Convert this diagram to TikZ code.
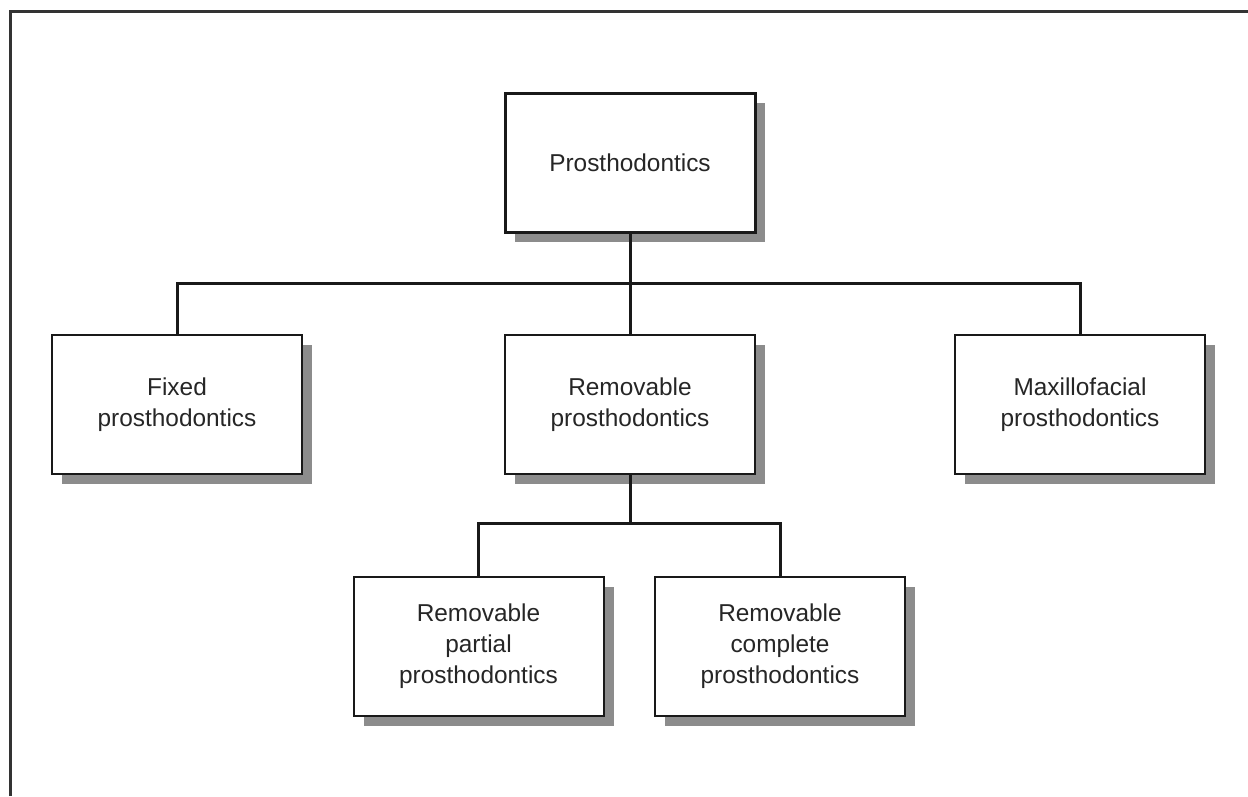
\documentclass[tikz,border=0pt]{standalone}
\usepackage{fontspec}
\setmainfont{Liberation Sans}
\usetikzlibrary{shadows}
\begin{document}
\begin{tikzpicture}[x=1pt,y=-1pt,
  box/.style={draw=black!90, fill=white, line width=2pt, minimum width=250pt, minimum height=139pt,
    align=center, inner sep=0pt, text=black!85, font=\fontsize{24.4}{31}\selectfont,
    drop shadow={shadow xshift=10pt, shadow yshift=-10pt, fill=black!45, opacity=1}},
  topbox/.style={box, line width=3pt},
  conn/.style={draw=black!90, line width=3pt}]
\useasboundingbox (0,0) rectangle (1248,796);
\fill[white] (0,0) rectangle (1248,796);
\draw[line width=3pt, black!80] (10,796) -- (10,11) -- (1248,11);
\node[topbox] (top) at (630,162.5) {Prosthodontics};
\node[box] (fixed) at (177,404.5) {Fixed\\prosthodontics};
\node[box] (rem) at (630,404.5) {Removable\\prosthodontics};
\node[box] (maxi) at (1080,404.5) {Maxillofacial\\prosthodontics};
\node[box] (partial) at (478.5,646.5) {Removable\\partial\\prosthodontics};
\node[box] (complete) at (780,646.5) {Removable\\complete\\prosthodontics};
\coordinate (b1) at (630,283);
\coordinate (b2) at (630,523);
\draw[conn] (top.south) -- (rem.north);
\draw[conn] (fixed.north) |- (b1) -| (maxi.north);
\draw[conn] (rem.south) -- (b2);
\draw[conn] (partial.north) |- (b2) -| (complete.north);
\end{tikzpicture}
\end{document}
